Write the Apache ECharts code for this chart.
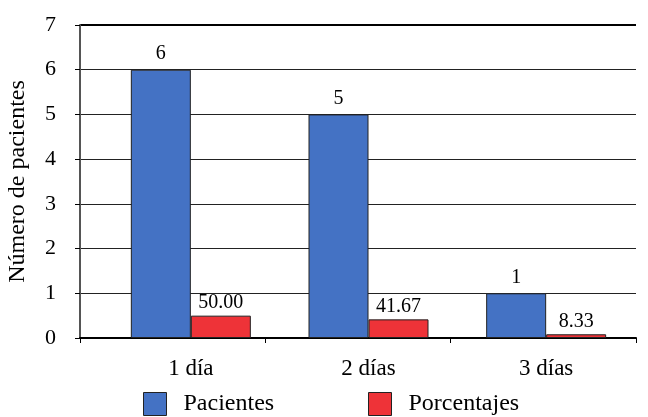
<!DOCTYPE html>
<html>
<head>
<meta charset="utf-8">
<script src="https://cdn.jsdelivr.net/npm/echarts@6/dist/echarts.min.js"></script>
<style>
  html, body { margin: 0; padding: 0; background: #fff; }
  #chart { width: 648px; height: 417px; }
</style>
</head>
<body>
<div id="chart"></div>
<script>
// Days of hospital stay and patient counts
const categories = ['1 día', '2 días', '3 días'];
const pacientes = [6, 5, 1];
const porcentajes = [50.00, 41.67, 8.33];
const yTicks = [0, 1, 2, 3, 4, 5, 6, 7];

const FONT = 'Liberation Serif';
const Y_MAX = yTicks[yTicks.length - 1];
const chart = echarts.init(document.getElementById('chart'));

const legendText = { fontFamily: FONT, fontSize: 24, color: '#000', padding: [0, 0, 0, 12] };

chart.setOption({
  animation: false,
  textStyle: { fontFamily: FONT, color: '#000' },
  grid: [
    // frame: value axis, gridlines and the category tick marks
    { left: 80, right: 12, top: 25, bottom: 79, outerBoundsMode: 'none', containLabel: false },
    // bars and category labels
    { left: 102, right: 13, top: 25, bottom: 79, outerBoundsMode: 'none', containLabel: false }
  ],
  legend: [
    {
      data: ['Pacientes'], left: 143, top: 392, padding: 0, itemWidth: 23, itemHeight: 23,
      icon: 'rect', itemStyle: { borderColor: '#222', borderWidth: 1 },
      textStyle: legendText
    },
    {
      data: ['Porcentajes'], left: 368, top: 392, padding: 0, itemWidth: 23, itemHeight: 23,
      icon: 'rect', itemStyle: { borderColor: '#222', borderWidth: 1 },
      textStyle: legendText
    }
  ],
  xAxis: [
    {
      gridIndex: 0, type: 'category', data: categories,
      axisLine: { lineStyle: { color: '#000', width: 2 } },
      axisTick: { show: true, length: 5, lineStyle: { color: '#000', width: 1 } },
      axisLabel: { show: false }
    },
    {
      gridIndex: 1, type: 'category', data: categories,
      axisLine: { show: false },
      axisTick: { show: false },
      axisLabel: { fontFamily: FONT, fontSize: 23, color: '#000', margin: 19 }
    }
  ],
  yAxis: [
    {
      gridIndex: 0, type: 'value', min: 0, max: Y_MAX, interval: 1,
      name: 'Número de pacientes', nameLocation: 'middle', nameRotate: 90, nameGap: 50,
      nameTextStyle: { fontFamily: FONT, fontSize: 24, color: '#000' },
      axisLine: { show: true, lineStyle: { color: '#555', width: 2 } },
      axisTick: { show: true, length: 5, lineStyle: { color: '#000' } },
      axisLabel: {
        fontFamily: FONT, fontSize: 22, color: '#000', margin: 24,
        formatter: v => (yTicks.includes(v) ? String(v) : '')
      },
      splitLine: {
        show: true,
        lineStyle: { color: ['#000', '#222', '#222', '#222', '#222', '#222', '#222', '#000'], width: 1 }
      }
    },
    {
      gridIndex: 1, type: 'value', min: 0, max: Y_MAX, show: false, splitLine: { show: false }
    },
    {
      // Percent scale: 100 % corresponds to one patient unit on the left axis
      gridIndex: 1, type: 'value', min: 0, max: Y_MAX * 100, show: false, splitLine: { show: false }
    }
  ],
  graphic: [
    {
      type: 'line', silent: true,
      shape: { x1: 80, y1: 25, x2: 636, y2: 25 },
      style: { stroke: '#000', lineWidth: 2 }
    }
  ],
  series: [
    {
      name: 'Pacientes', type: 'bar', data: pacientes, xAxisIndex: 1, yAxisIndex: 1,
      barWidth: 60, barGap: '0%',
      itemStyle: { color: '#4472C4', borderColor: '#222', borderWidth: 1 },
      label: { show: true, position: 'top', distance: 6, fontFamily: FONT, fontSize: 20, color: '#000' }
    },
    {
      name: 'Porcentajes', type: 'bar', data: porcentajes, xAxisIndex: 1, yAxisIndex: 2,
      barWidth: 60, barGap: '0%',
      itemStyle: { color: '#EE3338', borderColor: '#222', borderWidth: 1 },
      label: {
        show: true, position: 'top', distance: 3, fontFamily: FONT, fontSize: 20, color: '#000',
        formatter: p => p.value.toFixed(2)
      }
    }
  ]
});
</script>
</body>
</html>
